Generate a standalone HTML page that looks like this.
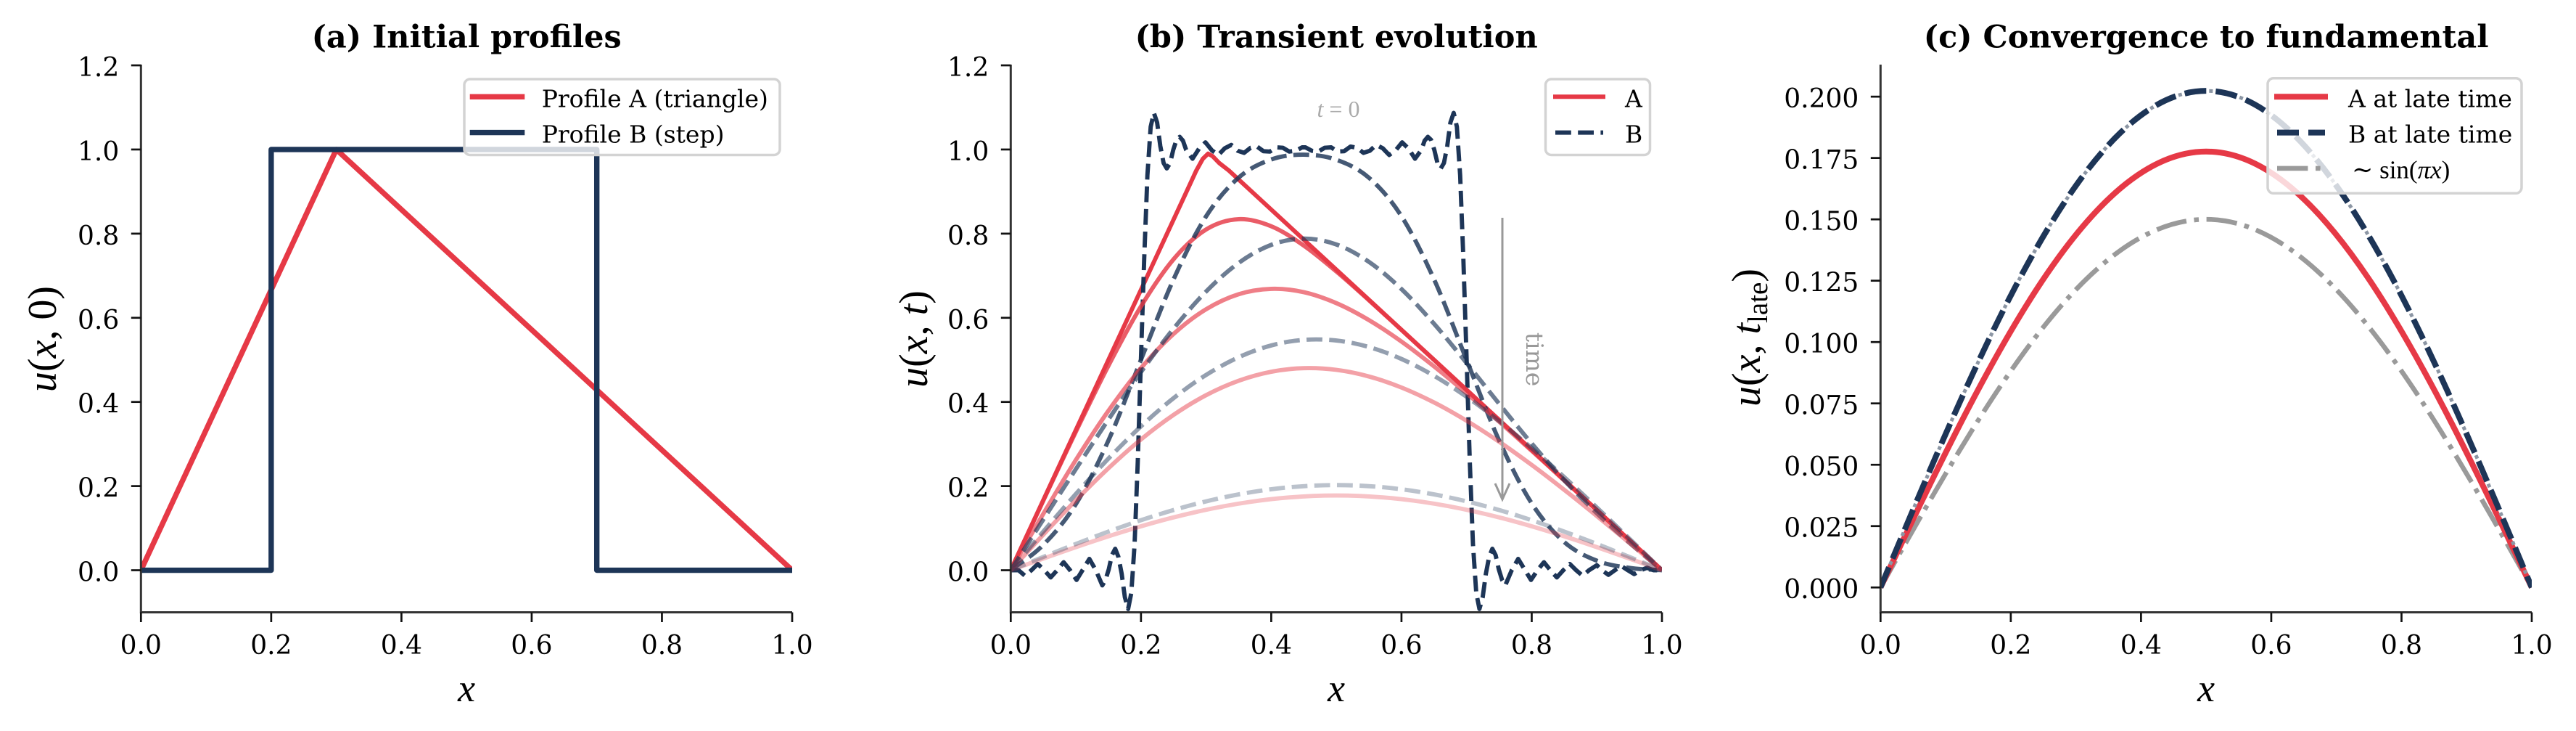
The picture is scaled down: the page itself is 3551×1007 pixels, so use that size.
<!DOCTYPE html>
<html><head><meta charset="utf-8">
<style>
html,body{margin:0;padding:0;background:#fff;}
svg{display:block;}
.tk{font-family:"DejaVu Serif","Liberation Serif",serif;font-size:36px;fill:#000;}
.ttl{font-family:"DejaVu Serif","Liberation Serif",serif;font-size:43px;font-weight:bold;fill:#000;}
.lg{font-family:"DejaVu Serif","Liberation Serif",serif;font-size:33px;fill:#000;}
.mth{font-family:"Liberation Serif","DejaVu Serif",serif;fill:#000;}
</style></head><body>
<svg xmlns="http://www.w3.org/2000/svg" width="3551" height="1007" viewBox="0 0 3551 1007">
<rect width="3551" height="1007" fill="#fff"/>
<defs>
<clipPath id="ca"><rect x="194.3" y="90" width="897.7" height="753.5"/></clipPath>
<clipPath id="cb"><rect x="1393.3" y="90" width="897.7" height="753.5"/></clipPath>
<clipPath id="cc"><rect x="2592.3" y="90" width="897.7" height="753.5"/></clipPath>
</defs>

<!-- ================= Panel A ================= -->
<g clip-path="url(#ca)" fill="none" stroke-width="7.4" stroke-linejoin="round">
<polyline points="194.3,785.54 463.61,205.94 1092,785.54" stroke="#e63946"/>
<polyline points="194.3,785.54 373.84,785.54 373.84,205.94 822.69,205.94 822.69,785.54 1092,785.54" stroke="#1d3557"/>
</g>

<!-- ================= Panel B curves ================= -->
<g clip-path="url(#cb)" fill="none" stroke-linejoin="round" stroke-width="5.9">
<!-- t=0 -->
<polyline stroke="#e63946" points="1393.3,785.5 1635.7,263.9 1649.1,234.9 1658.1,218.7 1665.3,211.7 1671.6,215.2 1680.6,224.5 1694.0,234.9 2291.0,785.5"/>
<polyline stroke="#1d3557" stroke-dasharray="21.8 9.4" points="1393.3,785.5 1404.0,785.5 1412.9,793.1 1421.8,785.5 1430.6,776.8 1439.5,785.5 1448.4,795.4 1457.3,785.5 1466.2,774.5 1475.1,785.5 1484.0,798.9 1492.9,784.4 1501.7,769.9 1510.6,785.5 1519.5,806.4 1523.9,798.9 1528.4,784.4 1532.8,764.7 1537.3,756.0 1541.7,767.0 1546.2,790.2 1550.6,822.6 1555.1,838.9 1559.5,816.8 1564.0,750.2 1568.4,636.0 1572.8,494.0 1577.3,355.5 1581.7,241.3 1586.2,174.6 1590.6,155.5 1595.1,168.8 1599.5,201.3 1604.0,224.5 1608.4,232.0 1612.9,225.0 1617.3,206.5 1621.8,192.6 1626.2,188.5 1630.7,193.8 1635.1,206.5 1643.9,218.7 1652.8,204.8 1661.7,196.1 1670.6,207.1 1679.5,213.5 1688.4,204.2 1697.3,199.6 1706.2,207.7 1715.0,210.6 1723.9,203.6 1732.8,201.9 1741.7,208.3 1750.6,208.8 1759.5,203.0 1768.4,203.6 1777.2,208.8 1786.1,207.7 1795.0,203.0 1799.5,203.0 1808.4,207.7 1817.3,208.8 1826.1,203.6 1835.0,203.0 1843.9,208.8 1852.8,208.3 1861.7,201.9 1870.6,203.6 1879.5,210.6 1888.3,207.7 1897.2,199.6 1906.1,204.2 1915.0,213.5 1923.9,207.1 1932.8,196.1 1941.7,204.8 1950.6,218.7 1959.4,206.5 1963.8,193.8 1968.3,188.5 1972.7,192.6 1977.2,206.5 1981.6,225.0 1986.1,232.0 1990.5,224.5 1995.0,201.3 1999.4,168.8 2003.9,155.5 2008.3,174.6 2012.8,241.3 2017.2,355.5 2021.7,494.0 2026.1,636.0 2030.5,750.2 2035.0,816.8 2039.4,838.9 2043.9,822.6 2048.3,790.2 2052.8,767.0 2057.2,756.0 2061.7,764.7 2066.1,784.4 2070.6,798.9 2075.0,806.4 2083.9,785.5 2092.8,769.9 2101.6,784.4 2110.5,798.9 2119.4,785.5 2128.3,774.5 2137.2,785.5 2146.1,795.4 2155.0,785.5 2163.9,776.8 2172.7,785.5 2181.6,793.1 2190.5,785.5 2201.2,778.6 2208.3,785.5 2217.2,791.9 2226.1,785.5 2235.0,779.7 2243.9,785.5 2252.7,790.8 2261.6,785.5 2270.5,782.1 2279.4,785.5 2291.0,785.5"/>
<!-- t=0.005 -->
<path stroke="#e63946" stroke-opacity="0.825" d="M1393.3 785.5 C1408.3 753.5 1423.2 721.4 1438.2 689.6 S1468.1 625.7 1483.1 594.7 S1513.0 532.5 1528.0 503.7 S1557.9 446.5 1572.8 422.1 S1602.8 374.9 1617.7 357.2 S1647.6 325.3 1662.6 316.1 S1692.5 302.6 1707.5 301.9 S1737.4 305.6 1752.4 311.7 S1782.3 327.9 1797.3 338.3 S1827.2 361.5 1842.2 374.0 S1872.1 400.1 1887.0 413.5 S1917.0 440.7 1931.9 454.4 S1961.8 481.9 1976.8 495.7 S2006.7 523.4 2021.7 537.2 S2051.6 564.8 2066.6 578.6 S2096.5 606.1 2111.5 619.9 S2141.4 647.5 2156.3 661.3 S2186.2 688.9 2201.2 702.7 S2231.1 730.4 2246.1 744.2 S2276.0 771.7 2291.0 785.5"/>
<path stroke="#1d3557" stroke-opacity="0.825" stroke-dasharray="21.8 9.4" d="M1393.3 785.5 C1408.3 773.9 1423.2 765.8 1438.2 750.6 S1468.1 718.4 1483.1 694.4 S1513.0 639.8 1528.0 606.7 S1557.9 532.7 1572.8 495.7 S1602.8 417.9 1617.7 384.9 S1647.6 321.4 1662.6 298.0 S1692.5 257.8 1707.5 244.7 S1737.4 225.0 1752.4 219.7 S1782.3 213.0 1797.3 213.1 S1827.2 214.8 1842.2 220.1 S1872.1 231.9 1887.0 244.8 S1917.0 274.5 1931.9 297.8 S1961.8 351.7 1976.8 384.7 S2006.7 458.9 2021.7 495.9 S2051.6 574.0 2066.6 606.9 S2096.5 670.2 2111.5 693.5 S2141.4 733.6 2156.3 746.7 S2186.2 766.5 2201.2 772.4 S2231.1 780.1 2246.1 782.3 S2276.0 784.4 2291.0 785.5"/>
<!-- t=0.02 -->
<path stroke="#e63946" stroke-opacity="0.65" d="M1393.3 785.5 C1408.3 759.6 1423.2 733.2 1438.2 707.9 S1468.1 657.3 1483.1 633.6 S1513.0 586.9 1528.0 565.8 S1557.9 524.8 1572.8 507.2 S1602.8 473.6 1617.7 460.1 S1647.6 435.1 1662.6 426.0 S1692.5 410.0 1707.5 405.3 S1737.4 398.4 1752.4 397.9 S1782.3 399.2 1797.3 402.5 S1827.2 411.2 1842.2 417.6 S1872.1 432.1 1887.0 440.9 S1917.0 459.9 1931.9 470.5 S1961.8 492.8 1976.8 504.7 S2006.7 529.1 2021.7 541.8 S2051.6 567.7 2066.6 580.9 S2096.5 607.6 2111.5 621.1 S2141.4 648.3 2156.3 661.9 S2186.2 689.3 2201.2 703.0 S2231.1 730.5 2246.1 744.2 S2276.0 771.7 2291.0 785.5"/>
<path stroke="#1d3557" stroke-opacity="0.65" stroke-dasharray="21.8 9.4" d="M1393.3 785.5 C1408.3 762.2 1423.2 738.8 1438.2 715.6 S1468.1 669.2 1483.1 646.2 S1513.0 600.2 1528.0 577.9 S1557.9 533.5 1572.8 512.6 S1602.8 471.3 1617.7 452.8 S1647.6 416.7 1662.6 401.6 S1692.5 372.9 1707.5 362.2 S1737.4 342.9 1752.4 337.3 S1782.3 328.8 1797.3 328.7 S1827.2 331.5 1842.2 336.8 S1872.1 350.5 1887.0 360.7 S1917.0 384.0 1931.9 398.2 S1961.8 429.0 1976.8 446.0 S2006.7 481.7 2021.7 500.1 S2051.6 537.8 2066.6 556.3 S2096.5 593.5 2111.5 611.0 S2141.4 645.6 2156.3 661.6 S2186.2 692.7 2201.2 707.0 S2231.1 734.5 2246.1 747.6 S2276.0 772.9 2291.0 785.5"/>
<!-- t=0.05 -->
<path stroke="#e63946" stroke-opacity="0.475" d="M1393.3 785.5 C1408.3 769.2 1423.2 752.6 1438.2 736.5 S1468.1 704.5 1483.1 689.2 S1513.0 659.0 1528.0 645.0 S1557.9 617.6 1572.8 605.4 S1602.8 581.8 1617.7 571.6 S1647.6 552.3 1662.6 544.4 S1692.5 529.9 1707.5 524.5 S1737.4 515.0 1752.4 512.1 S1782.3 507.6 1797.3 507.2 S1827.2 507.6 1842.2 509.5 S1872.1 514.6 1887.0 518.6 S1917.0 527.8 1931.9 533.8 S1961.8 546.8 1976.8 554.4 S2006.7 570.6 2021.7 579.6 S2051.6 598.4 2066.6 608.5 S2096.5 629.5 2111.5 640.5 S2141.4 663.1 2156.3 674.8 S2186.2 698.6 2201.2 710.8 S2231.1 735.5 2246.1 747.9 S2276.0 773.0 2291.0 785.5"/>
<path stroke="#1d3557" stroke-opacity="0.475" stroke-dasharray="21.8 9.4" d="M1393.3 785.5 C1408.3 767.8 1423.2 749.8 1438.2 732.3 S1468.1 697.3 1483.1 680.5 S1513.0 647.2 1528.0 631.7 S1557.9 601.2 1572.8 587.3 S1602.8 560.3 1617.7 548.5 S1647.6 525.9 1662.6 516.5 S1692.5 498.9 1707.5 492.1 S1737.4 479.9 1752.4 475.9 S1782.3 469.3 1797.3 468.2 S1827.2 467.5 1842.2 469.1 S1872.1 473.8 1887.0 478.0 S1917.0 487.9 1931.9 494.5 S1961.8 509.0 1976.8 517.7 S2006.7 536.2 2021.7 546.6 S2051.6 568.4 2066.6 580.2 S2096.5 604.6 2111.5 617.4 S2141.4 643.7 2156.3 657.3 S2186.2 685.0 2201.2 699.1 S2231.1 727.7 2246.1 742.1 S2276.0 771.0 2291.0 785.5"/>
<!-- t=0.15 -->
<path stroke="#e63946" stroke-opacity="0.3" d="M1393.3 785.54 C1539.68 732.79 1679.7 682.58 1842.15 682.58 C2004.6 682.58 2144.62 732.79 2291 785.54"/>
<path stroke="#1d3557" stroke-opacity="0.3" stroke-dasharray="21.8 9.4" d="M1393.3 785.54 C1539.68 725.46 1679.7 668.26 1842.15 668.26 C2004.6 668.26 2144.62 725.46 2291 785.54"/>
</g>

<!-- ================= Panel C curves ================= -->
<g clip-path="url(#cc)" fill="none" stroke-linejoin="round">
<path stroke="#9a9a9a" stroke-width="6.6" stroke-dasharray="42.4 10.6 6.6 10.6" d="M2592.3 809.25 C2738.68 549.47 2878.7 302.16 3041.15 302.16 C3203.6 302.16 3343.62 549.47 3490 809.25"/>
<path stroke="#e63946" stroke-width="8" d="M2592.3 809.25 C2738.68 501.6 2878.7 208.72 3041.15 208.72 C3203.6 208.72 3343.62 501.6 3490 809.25"/>
<path stroke="#1d3557" stroke-width="8" stroke-dasharray="30 13" d="M2592.3 809.25 C2738.68 458.81 2878.7 125.18 3041.15 125.18 C3203.6 125.18 3343.62 458.81 3490 809.25"/>
<path stroke="#8c96a4" stroke-width="5" stroke-dasharray="5 38" stroke-dashoffset="-34" d="M2592.3 809.25 C2738.68 458.81 2878.7 125.18 3041.15 125.18 C3203.6 125.18 3343.62 458.81 3490 809.25"/>
</g>

<!-- annotation panel b -->
<line x1="2071" y1="300" x2="2071" y2="688" stroke="#999" stroke-width="3"/>
<polyline points="2061,666 2071,688 2081,666" fill="none" stroke="#999" stroke-width="3"/>
<text class="mth" x="1845" y="161" font-size="32" text-anchor="middle" style="fill:#aaa"><tspan font-style="italic">t</tspan> = 0</text>
<text class="lg" transform="translate(2104,495) rotate(90)" text-anchor="middle" style="fill:#999">time</text>

<!-- ================= Axes (spines/ticks) ================= -->
<g stroke="#333" stroke-width="3" fill="none">
<polyline points="194.3,89 194.3,843.5 1092,843.5"/>
<polyline points="1393.3,89 1393.3,843.5 2291,843.5"/>
<polyline points="2592.3,89 2592.3,843.5 3490,843.5"/>
</g>
<g stroke="#111" stroke-width="2.7">
<line x1="194.3" y1="843.5" x2="194.3" y2="857"/><line x1="373.84" y1="843.5" x2="373.84" y2="857"/><line x1="553.38" y1="843.5" x2="553.38" y2="857"/><line x1="732.92" y1="843.5" x2="732.92" y2="857"/><line x1="912.46" y1="843.5" x2="912.46" y2="857"/><line x1="1092" y1="843.5" x2="1092" y2="857"/>
<line x1="1393.3" y1="843.5" x2="1393.3" y2="857"/><line x1="1572.84" y1="843.5" x2="1572.84" y2="857"/><line x1="1752.38" y1="843.5" x2="1752.38" y2="857"/><line x1="1931.92" y1="843.5" x2="1931.92" y2="857"/><line x1="2111.46" y1="843.5" x2="2111.46" y2="857"/><line x1="2291" y1="843.5" x2="2291" y2="857"/>
<line x1="2592.3" y1="843.5" x2="2592.3" y2="857"/><line x1="2771.84" y1="843.5" x2="2771.84" y2="857"/><line x1="2951.38" y1="843.5" x2="2951.38" y2="857"/><line x1="3130.92" y1="843.5" x2="3130.92" y2="857"/><line x1="3310.46" y1="843.5" x2="3310.46" y2="857"/><line x1="3490" y1="843.5" x2="3490" y2="857"/>
<line x1="180.8" y1="785.54" x2="194.3" y2="785.54"/><line x1="180.8" y1="669.62" x2="194.3" y2="669.62"/><line x1="180.8" y1="553.7" x2="194.3" y2="553.7"/><line x1="180.8" y1="437.78" x2="194.3" y2="437.78"/><line x1="180.8" y1="321.86" x2="194.3" y2="321.86"/><line x1="180.8" y1="205.94" x2="194.3" y2="205.94"/><line x1="180.8" y1="90.02" x2="194.3" y2="90.02"/>
<line x1="1379.8" y1="785.54" x2="1393.3" y2="785.54"/><line x1="1379.8" y1="669.62" x2="1393.3" y2="669.62"/><line x1="1379.8" y1="553.7" x2="1393.3" y2="553.7"/><line x1="1379.8" y1="437.78" x2="1393.3" y2="437.78"/><line x1="1379.8" y1="321.86" x2="1393.3" y2="321.86"/><line x1="1379.8" y1="205.94" x2="1393.3" y2="205.94"/><line x1="1379.8" y1="90.02" x2="1393.3" y2="90.02"/>
<line x1="2578.8" y1="809.25" x2="2592.3" y2="809.25"/><line x1="2578.8" y1="724.74" x2="2592.3" y2="724.74"/><line x1="2578.8" y1="640.22" x2="2592.3" y2="640.22"/><line x1="2578.8" y1="555.71" x2="2592.3" y2="555.71"/><line x1="2578.8" y1="471.19" x2="2592.3" y2="471.19"/><line x1="2578.8" y1="386.68" x2="2592.3" y2="386.68"/><line x1="2578.8" y1="302.17" x2="2592.3" y2="302.17"/><line x1="2578.8" y1="217.65" x2="2592.3" y2="217.65"/><line x1="2578.8" y1="133.14" x2="2592.3" y2="133.14"/>
</g>

<!-- tick labels -->
<g class="tk" text-anchor="middle">
<text x="194.3" y="901">0.0</text><text x="373.84" y="901">0.2</text><text x="553.38" y="901">0.4</text><text x="732.92" y="901">0.6</text><text x="912.46" y="901">0.8</text><text x="1092" y="901">1.0</text>
<text x="1393.3" y="901">0.0</text><text x="1572.84" y="901">0.2</text><text x="1752.38" y="901">0.4</text><text x="1931.92" y="901">0.6</text><text x="2111.46" y="901">0.8</text><text x="2291" y="901">1.0</text>
<text x="2592.3" y="901">0.0</text><text x="2771.84" y="901">0.2</text><text x="2951.38" y="901">0.4</text><text x="3130.92" y="901">0.6</text><text x="3310.46" y="901">0.8</text><text x="3490" y="901">1.0</text>
</g>
<g class="tk" text-anchor="end">
<text x="164.3" y="800.5">0.0</text><text x="164.3" y="684.6">0.2</text><text x="164.3" y="568.7">0.4</text><text x="164.3" y="452.8">0.6</text><text x="164.3" y="336.9">0.8</text><text x="164.3" y="220.9">1.0</text><text x="164.3" y="105">1.2</text>
<text x="1363.3" y="800.5">0.0</text><text x="1363.3" y="684.6">0.2</text><text x="1363.3" y="568.7">0.4</text><text x="1363.3" y="452.8">0.6</text><text x="1363.3" y="336.9">0.8</text><text x="1363.3" y="220.9">1.0</text><text x="1363.3" y="105">1.2</text>
<text x="2562.3" y="824.2">0.000</text><text x="2562.3" y="739.7">0.025</text><text x="2562.3" y="655.2">0.050</text><text x="2562.3" y="570.7">0.075</text><text x="2562.3" y="486.2">0.100</text><text x="2562.3" y="401.7">0.125</text><text x="2562.3" y="317.2">0.150</text><text x="2562.3" y="232.6">0.175</text><text x="2562.3" y="148.1">0.200</text>
</g>

<!-- titles -->
<g class="ttl" text-anchor="middle">
<text x="643.15" y="65.5">(a) Initial profiles</text>
<text x="1842.15" y="65.5">(b) Transient evolution</text>
<text x="3041.15" y="65.5">(c) Convergence to fundamental</text>
</g>

<!-- axis labels -->
<g class="mth" font-size="54" text-anchor="middle">
<text x="643.15" y="966" font-style="italic">x</text>
<text x="1842.15" y="966" font-style="italic">x</text>
<text x="3041.15" y="966" font-style="italic">x</text>
</g>
<g class="mth" font-size="56" text-anchor="middle">
<text transform="translate(77,467) rotate(-90)"><tspan font-style="italic">u</tspan>(<tspan font-style="italic">x</tspan>, 0)</text>
<text transform="translate(1278,467) rotate(-90)"><tspan font-style="italic">u</tspan>(<tspan font-style="italic">x</tspan>, <tspan font-style="italic">t</tspan>)</text>
<text transform="translate(2426,465) rotate(-90)"><tspan font-style="italic">u</tspan>(<tspan font-style="italic">x</tspan>, <tspan font-style="italic">t</tspan><tspan font-size="39" dy="10">late</tspan><tspan dy="-10">)</tspan></text>
</g>

<!-- ================= Legends ================= -->
<rect x="640" y="109" width="435" height="104.5" rx="8" fill="#fff" fill-opacity="0.8" stroke="#d3d3d3" stroke-width="3.5"/>
<line x1="651.4" y1="133.3" x2="719.6" y2="133.3" stroke="#e63946" stroke-width="7.4" stroke-linecap="square"/>
<line x1="651.4" y1="182.6" x2="719.6" y2="182.6" stroke="#1d3557" stroke-width="7.4" stroke-linecap="square"/>
<text class="lg" x="746.7" y="147.3">Profile A (triangle)</text>
<text class="lg" x="746.7" y="196.6">Profile B (step)</text>

<rect x="2130.5" y="109" width="144" height="104.5" rx="8" fill="#fff" fill-opacity="0.8" stroke="#d3d3d3" stroke-width="3.5"/>
<line x1="2144" y1="133.3" x2="2210" y2="133.3" stroke="#e63946" stroke-width="6" stroke-linecap="square"/>
<line x1="2144" y1="182.6" x2="2210" y2="182.6" stroke="#1d3557" stroke-width="6" stroke-dasharray="21.8 9.4"/>
<text class="lg" x="2240" y="147.3">A</text>
<text class="lg" x="2240" y="196.6">B</text>

<rect x="3126" y="107.8" width="350" height="158.5" rx="8" fill="#fff" fill-opacity="0.8" stroke="#d3d3d3" stroke-width="3.5"/>
<line x1="3139" y1="133.3" x2="3205" y2="133.3" stroke="#e63946" stroke-width="8" stroke-linecap="square"/>
<line x1="3139" y1="182.6" x2="3205" y2="182.6" stroke="#1d3557" stroke-width="8" stroke-dasharray="30 13"/>
<line x1="3139" y1="231.9" x2="3205" y2="231.9" stroke="#9a9a9a" stroke-width="6.6" stroke-dasharray="42.4 10.6 6.6 10.6"/>
<text class="lg" x="3237" y="147.3">A at late time</text>
<text class="lg" x="3237" y="196.6">B at late time</text>
<text class="mth" x="3242" y="245.5" font-size="35">∼ sin(<tspan font-style="italic">πx</tspan>)</text>
</svg>
</body></html>
